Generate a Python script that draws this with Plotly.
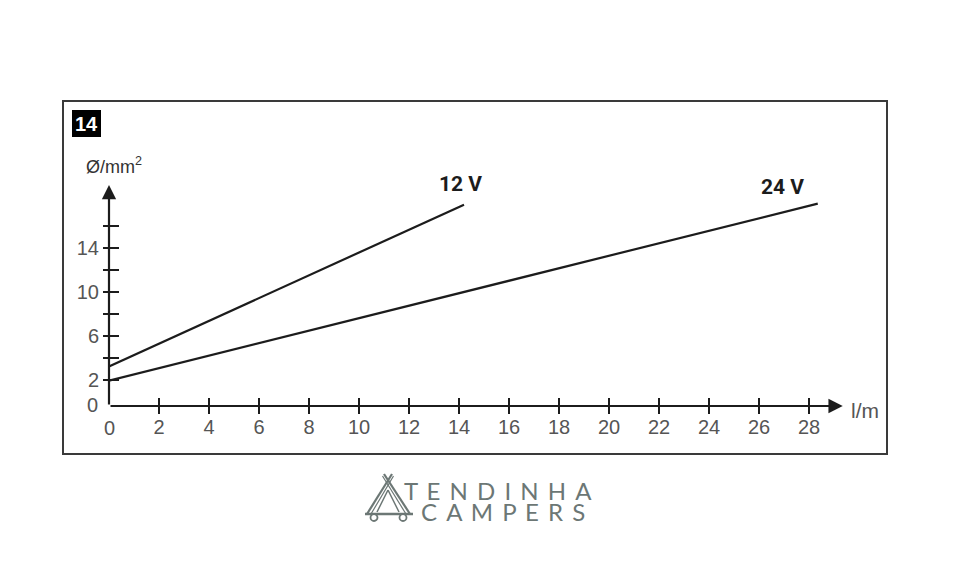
import plotly.graph_objects as go

# ---------------- data ----------------
x_12v = [0, 14.2]
y_12v = [3.2, 17.9]
x_24v = [0, 28.35]
y_24v = [1.9, 18.0]
series_labels = ["12 V", "24 V"]

x_tickvals = [2, 4, 6, 8, 10, 12, 14, 16, 18, 20, 22, 24, 26, 28]
x_ticktext = ["2", "4", "6", "8", "10", "12", "14", "16", "18", "20", "22", "24", "26", "28"]
y_tickvals = [2, 4, 6, 8, 10, 12, 14, 16]
y_ticktext = ["2", "", "6", "", "10", "", "14", ""]

x_title = "l/m"
y_title = "Ø/mm<sup>2</sup>"
figure_number = "14"
logo_line1 = "TENDINHA"
logo_line2 = "CAMPERS"

# ---------------- geometry helpers ----------------
# page body has an 8px margin, so the figure is drawn 8px right/down
OFF = 8
W, H = 959, 566
L, R, T, B = 101, 108, 173, 168
PW, PH = W - L - R, H - T - B
X_RANGE = [0, 30]
Y_RANGE = [-0.4, -0.4 + PH / 11.0]


def px(x):
    return (x - OFF - L) / PW


def py(y):
    return (H - B - (y - OFF)) / PH


INK = "#1c1c1c"
LABEL = "#555555"
LOGO = "#6c7775"
TICKFONT = dict(family="Liberation Sans, Arial, sans-serif", size=20, color=LABEL)

fig = go.Figure()

for xs, ys, name in [(x_12v, y_12v, series_labels[0]), (x_24v, y_24v, series_labels[1])]:
    fig.add_trace(go.Scatter(x=xs, y=ys, mode="lines", name=name,
                             line=dict(color=INK, width=2.2),
                             showlegend=False, hoverinfo="skip"))

# empty trace to register the overlay axes (inside ticks)
fig.add_trace(go.Scatter(x=[], y=[], xaxis="x2", yaxis="y2", showlegend=False, hoverinfo="skip"))

axis_common = dict(showgrid=False, zeroline=False, showline=False, fixedrange=True,
                   tickmode="array", tickwidth=2, tickcolor=INK, automargin=False)

fig.update_layout(
    width=W, height=H,
    margin=dict(l=L, r=R, t=T, b=B, pad=0),
    paper_bgcolor="white", plot_bgcolor="rgba(0,0,0,0)",
    xaxis=dict(range=X_RANGE, tickvals=x_tickvals, ticktext=x_ticktext,
               ticks="outside", ticklen=7, tickfont=TICKFONT, ticklabelstandoff=-4, **axis_common),
    yaxis=dict(range=Y_RANGE, tickvals=y_tickvals, ticktext=y_ticktext,
               ticks="outside", ticklen=5, tickfont=TICKFONT, **axis_common),
    xaxis2=dict(range=X_RANGE, tickvals=x_tickvals, overlaying="x", anchor="y2", side="bottom",
                ticks="inside", ticklen=8, showticklabels=False, **axis_common),
    yaxis2=dict(range=Y_RANGE, tickvals=y_tickvals, overlaying="y", anchor="x2", side="left",
                ticks="inside", ticklen=10, showticklabels=False, **axis_common),
)

annotations = []
# axis arrows
annotations.append(dict(x=29.35, y=Y_RANGE[0], ax=0, ay=Y_RANGE[0], xref="x", yref="y",
                        axref="x", ayref="y", text="", showarrow=True, arrowhead=2,
                        arrowsize=1.3, arrowwidth=2.2, arrowcolor=INK, standoff=0))
annotations.append(dict(x=0, y=19.7, ax=0, ay=Y_RANGE[0], xref="x", yref="y",
                        axref="x", ayref="y", text="", showarrow=True, arrowhead=2,
                        arrowsize=1.3, arrowwidth=2.2, arrowcolor=INK, standoff=0))


def label(x, y, text, font, xref="paper"):
    annotations.append(dict(x=x, y=y, xref=xref, yref="paper", text=text, showarrow=False,
                            xanchor="center", yanchor="middle", font=font))


# zero labels
label(px(92), py(405), "0", TICKFONT)
label(0, py(428), "0", TICKFONT, xref="x")
# axis titles
label(px(865), py(410), x_title, dict(family="Liberation Sans, Arial", size=21, color=LABEL))
label(px(114), py(165), y_title, dict(family="Liberation Sans, Arial", size=18, color="#333333"))
# series labels
bold_font = dict(family="Liberation Sans Narrow, Roboto, Arial", size=21, color=INK, weight="bold")
label(px(460), py(184), series_labels[0], bold_font)
label(px(782), py(187), series_labels[1], bold_font)
# figure number
label(px(86.5), py(123.5), "<b>%s</b>" % figure_number,
      dict(family="Liberation Sans, Arial", size=20, color="white"))
# logo text
sep = "\u00a0\u2009"
logo_font = dict(family="Lato, sans-serif", size=24, color=LOGO)
label(px(498), py(490), sep.join(logo_line1), logo_font)
label(px(503), py(511.5), sep.join(logo_line2), logo_font)

shapes = []
# frame
shapes.append(dict(type="rect", xref="paper", yref="paper", x0=px(63), x1=px(887), y0=py(454), y1=py(101),
                   line=dict(color="#3a3a3a", width=2), fillcolor="rgba(0,0,0,0)", layer="below"))
# figure number box
shapes.append(dict(type="rect", xref="paper", yref="paper", x0=px(72), x1=px(101), y0=py(137), y1=py(110),
                   line=dict(width=0), fillcolor="black", layer="below"))


# logo tent icon
def seg(x0, y0, x1, y1, w=2.2):
    shapes.append(dict(type="line", xref="paper", yref="paper", x0=px(x0), y0=py(y0), x1=px(x1), y1=py(y1),
                       line=dict(color=LOGO, width=w)))


seg(367, 514, 392, 474)
seg(371, 514, 393.5, 476, 1.2)
seg(410, 514, 384, 474)
seg(406, 514, 382.5, 476, 1.2)
seg(388, 490, 377, 512, 1.5)
seg(388, 490, 399, 512, 1.5)
seg(365, 514, 413, 514, 2.4)
for cx in (374, 403):
    shapes.append(dict(type="circle", xref="paper", yref="paper", x0=px(cx - 3.5), x1=px(cx + 3.5),
                       y0=py(521), y1=py(514), line=dict(color=LOGO, width=1.8), fillcolor="white"))

fig.update_layout(annotations=annotations, shapes=shapes)

fig.write_html("out.html")
